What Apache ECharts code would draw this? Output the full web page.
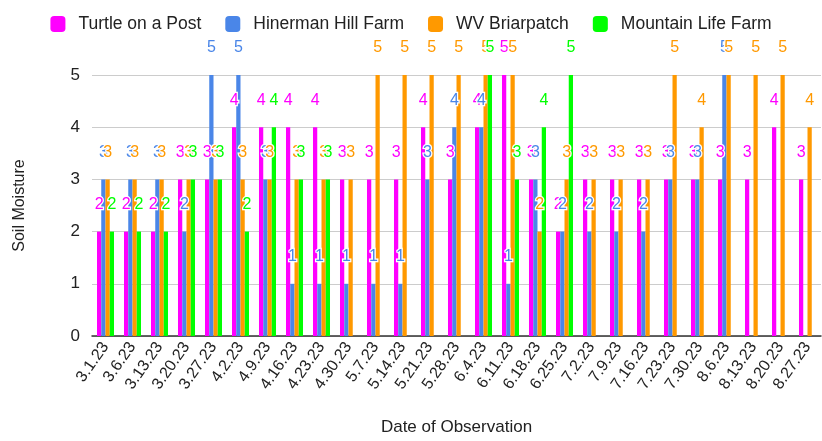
<!DOCTYPE html>
<html>
<head>
<meta charset="utf-8">
<script src="https://cdn.jsdelivr.net/npm/echarts@6/dist/echarts.min.js"></script>
<style>html,body{margin:0;padding:0;background:#fff}#c{width:822px;height:441px}</style>
</head>
<body>
<div id="c"></div>
<script>
const categories = ['3.1.23','3.6.23','3.13.23','3.20.23','3.27.23','4.2.23','4.9.23','4.16.23','4.23.23','4.30.23','5.7.23','5.14.23','5.21.23','5.28.23','6.4.23','6.11.23','6.18.23','6.25.23','7.2.23','7.9.23','7.16.23','7.23.23','7.30.23','8.6.23','8.13.23','8.20.23','8.27.23'];
const turtleOnAPost   = [2,2,2,3,3,4,4,4,4,3,3,3,4,3,4,5,3,2,3,3,3,3,3,3,3,4,3];
const hinermanHill    = [3,3,3,2,5,5,3,1,1,1,1,1,3,4,4,1,3,2,2,2,2,3,3,5,null,null,null];
const wvBriarpatch    = [3,3,3,3,3,3,3,3,3,3,5,5,5,5,5,5,2,3,3,3,3,5,4,5,5,5,4];
const mountainLife    = [2,2,2,3,3,2,4,3,3,null,null,null,null,null,5,3,4,5,null,null,null,null,null,null,null,null,null];
const seriesNames = ['Turtle on a Post','Hinerman Hill Farm','WV Briarpatch','Mountain Life Farm'];
const colors = ['#ff00ff','#4a86e8','#ff9900','#00ff00'];
const yTicks = [0,1,2,3,4,5];

const font = 'Liberation Sans, Arial, sans-serif';
const chart = echarts.init(document.getElementById('c'));
const mk = (name, data, color) => ({
  name, type: 'bar', data,
  itemStyle: { color },
  barGap: '0%', barCategoryGap: '37%',
  label: {
    show: true, position: 'top', distance: 19,
    color, fontSize: 16, fontFamily: font,
    textBorderColor: '#fff', textBorderWidth: 2.5
  }
});
chart.setOption({
  animation: false,
  color: colors,
  legend: {
    top: 10, left: 'center',
    itemWidth: 15, itemHeight: 16, itemGap: 24,
    icon: 'roundRect',
    textStyle: { fontSize: 17.5, fontFamily: font, color: '#222', padding: [0, 0, 0, 8] }
  },
  grid: { left: 92, right: 1, top: 75, bottom: 100 },
  xAxis: {
    type: 'category', data: categories,
    name: 'Date of Observation', nameLocation: 'middle', nameGap: 83,
    nameTextStyle: { fontSize: 17, fontFamily: font, color: '#222' },
    axisLine: { lineStyle: { color: '#333', width: 1.5 } },
    axisTick: { show: false },
    axisLabel: { rotate: 55, fontSize: 16, fontFamily: font, color: '#222', interval: 0, margin: 8 }
  },
  yAxis: {
    type: 'value', min: yTicks[0], max: yTicks[yTicks.length-1], interval: 1,
    name: 'Soil Moisture', nameLocation: 'middle', nameGap: 64,
    nameTextStyle: { fontSize: 16, fontFamily: font, color: '#222' },
    axisLine: { show: false }, axisTick: { show: false },
    axisLabel: { fontSize: 17, fontFamily: font, color: '#222', margin: 12 },
    splitLine: { lineStyle: { color: '#ccc' } }
  },
  series: [
    mk(seriesNames[0], turtleOnAPost, colors[0]),
    mk(seriesNames[1], hinermanHill, colors[1]),
    mk(seriesNames[2], wvBriarpatch, colors[2]),
    mk(seriesNames[3], mountainLife, colors[3])
  ]
});
</script>
</body>
</html>
